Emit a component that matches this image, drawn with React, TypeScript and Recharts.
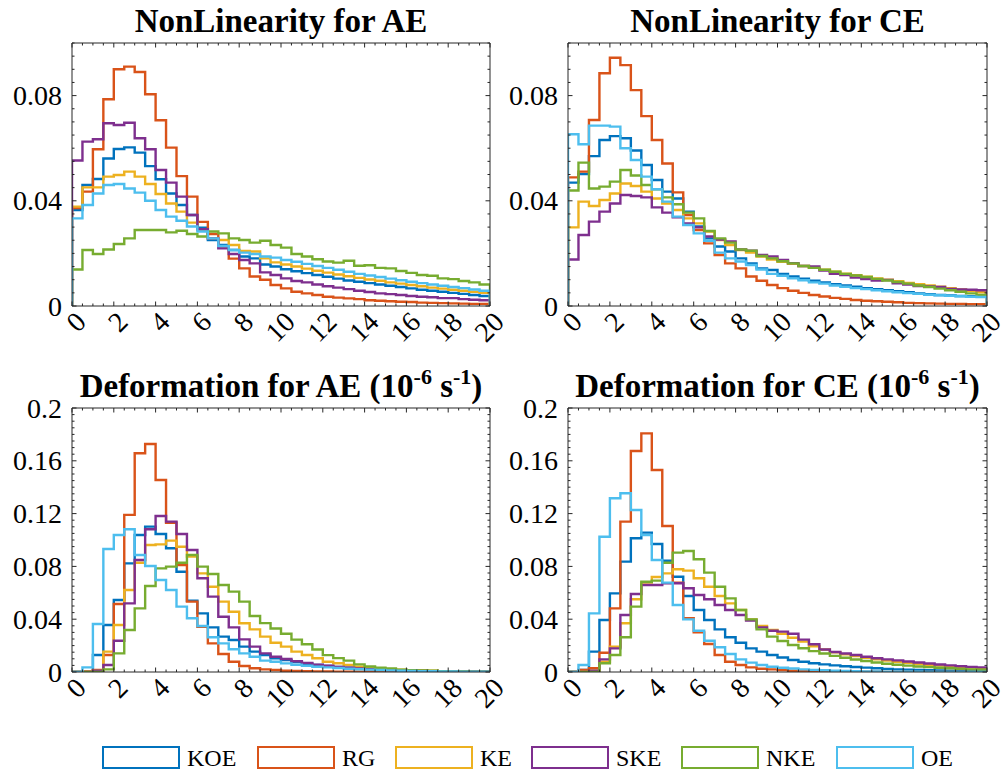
import React from 'react';
import { LineChart, Line, XAxis, YAxis } from 'recharts';

// histogram bins: 40 bins of width 0.5 from 0 to 20
const binWidth = 0.5;
const xMax = 20;
const seriesNames = ['KOE', 'RG', 'KE', 'SKE', 'NKE', 'OE'];
const seriesColors = ['#0072BD', '#D95319', '#EDB120', '#7E2F8E', '#77AC30', '#4DBEEE'];

// NonLinearity for AE
const nlAeKOE = [0.0365, 0.046, 0.0483, 0.0561, 0.0597, 0.0603, 0.0583, 0.0532, 0.0482, 0.0428, 0.0384, 0.0346, 0.0298, 0.0251, 0.0232, 0.0213, 0.0188, 0.0181, 0.0158, 0.015, 0.014, 0.0132, 0.0125, 0.0118, 0.0111, 0.0104, 0.0097, 0.0092, 0.0087, 0.0082, 0.0077, 0.0072, 0.0067, 0.0062, 0.0058, 0.0054, 0.005, 0.0046, 0.0042, 0.0038];
const nlAeRG = [0.0372, 0.0435, 0.0596, 0.0786, 0.09, 0.091, 0.089, 0.0805, 0.0706, 0.0602, 0.0494, 0.0416, 0.032, 0.0274, 0.0226, 0.018, 0.0143, 0.0112, 0.01, 0.008, 0.0067, 0.0054, 0.0048, 0.0042, 0.0035, 0.0032, 0.0029, 0.0026, 0.0022, 0.002, 0.0018, 0.0016, 0.0015, 0.0013, 0.0012, 0.0011, 0.001, 0.0009, 0.0008, 0.0008];
const nlAeKE = [0.0378, 0.0451, 0.0451, 0.0492, 0.0498, 0.0511, 0.0492, 0.0464, 0.0426, 0.039, 0.0359, 0.0317, 0.0289, 0.0257, 0.0251, 0.0232, 0.0209, 0.0207, 0.0181, 0.0166, 0.0158, 0.015, 0.0142, 0.0134, 0.0127, 0.012, 0.0113, 0.0107, 0.0101, 0.0096, 0.009, 0.0085, 0.008, 0.0075, 0.007, 0.0066, 0.0062, 0.0058, 0.0054, 0.005];
const nlAeSKE = [0.0553, 0.0625, 0.0634, 0.0695, 0.0688, 0.0697, 0.0638, 0.0596, 0.0517, 0.0469, 0.0416, 0.0346, 0.0292, 0.0257, 0.0219, 0.0198, 0.0175, 0.0162, 0.0128, 0.0118, 0.0105, 0.0095, 0.009, 0.0082, 0.0075, 0.007, 0.0064, 0.0058, 0.0053, 0.0048, 0.0045, 0.0042, 0.0038, 0.0035, 0.0033, 0.003, 0.003, 0.0026, 0.0024, 0.0022];
const nlAeNKE = [0.0139, 0.0213, 0.0198, 0.0215, 0.0236, 0.0257, 0.0289, 0.0289, 0.0289, 0.028, 0.0286, 0.0274, 0.0264, 0.0283, 0.0276, 0.0257, 0.0251, 0.0241, 0.0248, 0.0232, 0.0222, 0.0198, 0.0188, 0.0178, 0.0169, 0.0165, 0.0172, 0.0153, 0.0155, 0.0145, 0.0143, 0.0133, 0.0126, 0.0118, 0.0115, 0.0105, 0.0102, 0.0095, 0.009, 0.0082];
const nlAeOE = [0.0333, 0.0384, 0.0428, 0.046, 0.0464, 0.0447, 0.0431, 0.04, 0.0365, 0.034, 0.0324, 0.0302, 0.0283, 0.0257, 0.0228, 0.0213, 0.0203, 0.0198, 0.0188, 0.0184, 0.0175, 0.0168, 0.016, 0.0152, 0.0145, 0.0138, 0.013, 0.0122, 0.0116, 0.011, 0.0104, 0.0098, 0.0092, 0.0087, 0.0082, 0.0077, 0.0072, 0.0068, 0.0063, 0.0058];

// NonLinearity for CE
const nlCeKOE = [0.0469, 0.0502, 0.057, 0.0631, 0.0646, 0.0638, 0.0591, 0.0536, 0.0479, 0.0435, 0.0409, 0.0359, 0.0302, 0.0257, 0.0226, 0.0207, 0.0181, 0.0162, 0.0143, 0.0137, 0.0122, 0.0112, 0.0104, 0.0096, 0.009, 0.0083, 0.0078, 0.0073, 0.0068, 0.0064, 0.006, 0.0056, 0.0052, 0.0048, 0.0045, 0.0042, 0.004, 0.0038, 0.0037, 0.0035];
const nlCeRG = [0.0489, 0.0511, 0.0707, 0.0885, 0.0944, 0.0916, 0.0821, 0.0722, 0.0631, 0.0542, 0.0432, 0.0346, 0.0289, 0.0238, 0.0194, 0.0162, 0.0143, 0.0112, 0.0096, 0.008, 0.0068, 0.0058, 0.005, 0.0042, 0.0036, 0.0031, 0.0027, 0.0023, 0.002, 0.0018, 0.0016, 0.0014, 0.0012, 0.0011, 0.001, 0.0009, 0.0008, 0.0008, 0.0007, 0.0007];
const nlCeKE = [0.0299, 0.0397, 0.038, 0.0403, 0.0428, 0.0466, 0.0456, 0.0435, 0.0409, 0.039, 0.0365, 0.0333, 0.0314, 0.0283, 0.0251, 0.0232, 0.0213, 0.0203, 0.0188, 0.0177, 0.0168, 0.016, 0.0152, 0.0145, 0.0138, 0.013, 0.0123, 0.0117, 0.0111, 0.0105, 0.01, 0.0094, 0.0088, 0.0083, 0.0078, 0.0073, 0.0068, 0.0063, 0.0058, 0.0052];
const nlCeSKE = [0.0177, 0.027, 0.0321, 0.0359, 0.039, 0.0422, 0.0418, 0.0413, 0.0375, 0.0355, 0.0337, 0.0314, 0.0299, 0.0264, 0.0253, 0.0245, 0.0215, 0.021, 0.0194, 0.0188, 0.0175, 0.0163, 0.0152, 0.015, 0.0135, 0.0122, 0.0118, 0.0108, 0.0102, 0.0097, 0.0099, 0.0086, 0.0082, 0.0076, 0.0074, 0.0072, 0.0065, 0.0063, 0.0062, 0.006];
const nlCeNKE = [0.0439, 0.0545, 0.0447, 0.0454, 0.0473, 0.0517, 0.0496, 0.046, 0.0444, 0.0413, 0.0387, 0.0355, 0.0333, 0.0285, 0.0257, 0.0241, 0.0215, 0.021, 0.019, 0.0181, 0.017, 0.0162, 0.0152, 0.0145, 0.0138, 0.013, 0.0122, 0.0116, 0.011, 0.0103, 0.0097, 0.0091, 0.0085, 0.0078, 0.0072, 0.0066, 0.006, 0.0054, 0.0048, 0.0042];
const nlCeOE = [0.0653, 0.0615, 0.0686, 0.0686, 0.0682, 0.06, 0.0555, 0.0492, 0.0444, 0.0397, 0.034, 0.0308, 0.0276, 0.0248, 0.0203, 0.0181, 0.0169, 0.0156, 0.0139, 0.0122, 0.0115, 0.0105, 0.0098, 0.009, 0.0085, 0.0078, 0.0073, 0.0068, 0.0064, 0.006, 0.0056, 0.0052, 0.0049, 0.0046, 0.0043, 0.0041, 0.0039, 0.0037, 0.0035, 0.0034];

// Deformation for AE
const dfAeKOE = [0, 0, 0.0129, 0.0356, 0.0545, 0.0823, 0.1038, 0.1101, 0.1045, 0.0937, 0.076, 0.054, 0.0444, 0.0338, 0.0268, 0.0242, 0.0192, 0.0154, 0.0129, 0.0104, 0.009, 0.0075, 0.0063, 0.0053, 0.0045, 0.0038, 0.0032, 0.0026, 0.0022, 0.0018, 0.0015, 0.0012, 0.001, 0.0008, 0.0006, 0.0005, 0.0004, 0.0003, 0.0003, 0.0002];
const dfAeRG = [0, 0.0005, 0.0015, 0.0129, 0.0515, 0.119, 0.1657, 0.1727, 0.1455, 0.1131, 0.081, 0.0533, 0.0343, 0.0217, 0.0136, 0.0078, 0.0045, 0.0028, 0.002, 0.0015, 0.001, 0.0008, 0.0006, 0.0005, 0.0004, 0.0003, 0.0003, 0.0002, 0.0002, 0.0001, 0.0001, 0.0001, 0.0001, 0, 0, 0, 0, 0, 0, 0];
const dfAeKE = [0, 0, 0.001, 0.0154, 0.0356, 0.0621, 0.0828, 0.0962, 0.0967, 0.0995, 0.0949, 0.0874, 0.0747, 0.0646, 0.0533, 0.0457, 0.0369, 0.0323, 0.0268, 0.0222, 0.0192, 0.0154, 0.0129, 0.0104, 0.0078, 0.0066, 0.0053, 0.004, 0.0033, 0.0025, 0.002, 0.0017, 0.0014, 0.0011, 0.0009, 0.0007, 0.0005, 0.0004, 0.0003, 0.0002];
const dfAeSKE = [0, 0, 0.001, 0.0053, 0.0237, 0.052, 0.0848, 0.1081, 0.1182, 0.1139, 0.1045, 0.0924, 0.071, 0.0571, 0.0419, 0.0338, 0.0247, 0.0192, 0.0141, 0.0116, 0.0098, 0.0082, 0.0068, 0.0056, 0.0047, 0.0039, 0.0032, 0.0027, 0.0022, 0.0018, 0.0015, 0.0012, 0.001, 0.0008, 0.0006, 0.0005, 0.0004, 0.0003, 0.0003, 0.0002];
const dfAeNKE = [0, 0, 0, 0.002, 0.0141, 0.0318, 0.0482, 0.0652, 0.0785, 0.0798, 0.0828, 0.0886, 0.0798, 0.0742, 0.0659, 0.0609, 0.0533, 0.0424, 0.037, 0.033, 0.029, 0.0245, 0.021, 0.017, 0.0128, 0.0105, 0.0086, 0.0058, 0.0042, 0.0032, 0.0027, 0.0018, 0.0014, 0.0011, 0.0009, 0.0007, 0.0005, 0.0004, 0.0003, 0.0003];
const dfAeOE = [0, 0.0035, 0.0364, 0.0932, 0.1038, 0.1081, 0.0886, 0.0803, 0.0697, 0.0621, 0.0495, 0.0407, 0.0348, 0.0263, 0.0217, 0.0172, 0.0141, 0.0116, 0.0086, 0.0078, 0.0065, 0.0055, 0.0047, 0.004, 0.0035, 0.003, 0.0025, 0.0021, 0.0018, 0.0015, 0.0012, 0.001, 0.0008, 0.0007, 0.0006, 0.0005, 0.0004, 0.0003, 0.0003, 0.0002];

// Deformation for CE
const dfCeKOE = [0, 0.0015, 0.0154, 0.0394, 0.0596, 0.0836, 0.1013, 0.1056, 0.097, 0.0843, 0.0722, 0.0576, 0.047, 0.0394, 0.0323, 0.0263, 0.0222, 0.0179, 0.0154, 0.0129, 0.011, 0.0091, 0.0078, 0.0066, 0.0058, 0.005, 0.0044, 0.0038, 0.0033, 0.0028, 0.0024, 0.002, 0.0018, 0.0015, 0.0013, 0.0011, 0.0009, 0.0008, 0.0007, 0.0006];
const dfCeRG = [0, 0.0015, 0.0028, 0.0146, 0.0482, 0.1139, 0.1674, 0.1808, 0.153, 0.1106, 0.0677, 0.0407, 0.03, 0.0212, 0.0129, 0.0078, 0.0053, 0.0035, 0.0025, 0.002, 0.0015, 0.001, 0.0008, 0.0006, 0.0005, 0.0004, 0.0003, 0.0003, 0.0002, 0.0002, 0.0001, 0.0001, 0.0001, 0.0001, 0, 0, 0, 0, 0, 0];
const dfCeKE = [0, 0, 0.001, 0.0078, 0.0192, 0.0369, 0.0551, 0.0677, 0.072, 0.0747, 0.0778, 0.0768, 0.071, 0.0646, 0.0576, 0.052, 0.047, 0.0399, 0.0348, 0.0318, 0.029, 0.026, 0.023, 0.0195, 0.017, 0.015, 0.0135, 0.012, 0.0108, 0.0096, 0.0086, 0.0077, 0.0069, 0.0061, 0.0054, 0.0048, 0.0042, 0.0037, 0.0033, 0.0029];
const dfCeSKE = [0, 0, 0.001, 0.0096, 0.0179, 0.0432, 0.0591, 0.0659, 0.0659, 0.0672, 0.0672, 0.0634, 0.0583, 0.0551, 0.0508, 0.047, 0.0432, 0.0389, 0.0338, 0.0313, 0.0306, 0.029, 0.0245, 0.021, 0.017, 0.0152, 0.014, 0.0129, 0.0116, 0.0104, 0.0096, 0.0088, 0.008, 0.0072, 0.0064, 0.0057, 0.005, 0.0044, 0.0039, 0.0035];
const dfCeNKE = [0, 0, 0, 0.0066, 0.0129, 0.0263, 0.0495, 0.0684, 0.0692, 0.0828, 0.0904, 0.0917, 0.0854, 0.0753, 0.0646, 0.0558, 0.047, 0.0399, 0.0323, 0.0268, 0.0235, 0.0205, 0.018, 0.0158, 0.014, 0.0122, 0.0108, 0.0095, 0.0083, 0.0072, 0.0063, 0.0055, 0.0048, 0.0042, 0.0037, 0.0032, 0.0028, 0.0024, 0.002, 0.0018];
const dfCeOE = [0, 0.0053, 0.0444, 0.1025, 0.1316, 0.1354, 0.1227, 0.1038, 0.0848, 0.0677, 0.0508, 0.0399, 0.0313, 0.0237, 0.0187, 0.0136, 0.0096, 0.0071, 0.0053, 0.004, 0.0032, 0.0026, 0.002, 0.0016, 0.0013, 0.001, 0.0008, 0.0006, 0.0005, 0.0004, 0.0003, 0.0003, 0.0002, 0.0002, 0.0001, 0.0001, 0.0001, 0.0001, 0, 0];

// axis ticks
const xMajorTicks = [0, 2, 4, 6, 8, 10, 12, 14, 16, 18, 20];
const yMajorStep = 0.04;
const yMinorStep = 0.005;

const axisColor = '#262626';
const serif = '"Liberation Serif", "Times New Roman", serif';

const xTicks = Array.from({ length: xMax / binWidth + 1 }, (_, i) => i * binWidth);
const makeYTicks = (yMax: number) =>
    Array.from({ length: Math.round(yMax / yMinorStep) + 1 }, (_, i) => Number((i * yMinorStep).toFixed(3)));

const isXMajor = (v: number) => xMajorTicks.includes(v);
const isYMajor = (v: number) => Math.abs(v / yMajorStep - Math.round(v / yMajorStep)) < 1e-6;

// stairs: start at baseline, one row per bin, close at the right edge
function buildRows(cols: number[][]) {
    const row = (x: number, pick: (c: number[]) => number) => {
        const r: Record<string, number> = { x };
        seriesNames.forEach((n, k) => { r[n] = pick(cols[k]); });
        return r;
    };
    const rows = [row(0, () => 0)];
    for (let i = 0; i < cols[0].length; i++) rows.push(row(i * binWidth, c => c[i]));
    rows.push(row(xMax, c => c[c.length - 1]));
    rows.push(row(xMax, () => 0));
    return rows;
}

const M_LEFT = 72;
const M_TOP = 43;
const M_RIGHT = 20;
const M_BOTTOM = 60;

function Panel({ plotLeft, plotTop, plotW, plotH, yMax, cols }: {
    plotLeft: number; plotTop: number; plotW: number; plotH: number; yMax: number; cols: number[][];
}) {
    const W = M_LEFT + plotW + M_RIGHT;
    const H = M_TOP + plotH + M_BOTTOM;
    const yb = M_TOP + plotH;
    const xr = M_LEFT + plotW;
    const rows = buildRows(cols);
    const yTicks = makeYTicks(yMax);

    const tickBottom = (p: any) => {
        const v = p.payload.value;
        const major = isXMajor(v);
        const ax = p.x + 9;
        const ay = yb + 11;
        return (
            <g>
                <line x1={p.x} x2={p.x} y1={yb} y2={yb - (major ? 4.5 : 2.5)} stroke={axisColor} />
                {major && (
                    <text x={ax} y={ay} textAnchor="end" dominantBaseline="central"
                        transform={`rotate(-45 ${ax} ${ay})`}
                        fontFamily={serif} fontSize={28} fill="#000">{v}</text>
                )}
            </g>
        );
    };
    const tickTop = (p: any) => {
        const major = isXMajor(p.payload.value);
        return <line x1={p.x} x2={p.x} y1={M_TOP} y2={M_TOP + (major ? 4.5 : 2.5)} stroke={axisColor} />;
    };
    const tickLeft = (p: any) => {
        const v = p.payload.value;
        const major = isYMajor(v);
        return (
            <g>
                <line x1={M_LEFT} x2={M_LEFT + (major ? 4.5 : 2.5)} y1={p.y} y2={p.y} stroke={axisColor} />
                {major && (
                    <text x={M_LEFT - 10} y={p.y} textAnchor="end" dominantBaseline="central"
                        fontFamily={serif} fontSize={28} fill="#000">{String(Number(v.toFixed(3)))}</text>
                )}
            </g>
        );
    };
    const tickRight = (p: any) => {
        const major = isYMajor(p.payload.value);
        return <line x1={xr} x2={xr - (major ? 4.5 : 2.5)} y1={p.y} y2={p.y} stroke={axisColor} />;
    };

    return (
        <div style={{ position: 'absolute', left: plotLeft - M_LEFT, top: plotTop - M_TOP, width: W, height: H }}>
            <LineChart width={W} height={H} data={rows} margin={{ top: 0, right: 0, bottom: 0, left: 0 }}>
                <XAxis xAxisId="b" dataKey="x" type="number" domain={[0, xMax]} ticks={xTicks} interval={0}
                    height={M_BOTTOM} tickLine={false} axisLine={{ stroke: axisColor }} tick={tickBottom} allowDataOverflow />
                <XAxis xAxisId="t" orientation="top" dataKey="x" type="number" domain={[0, xMax]} ticks={xTicks} interval={0}
                    height={M_TOP} tickLine={false} axisLine={{ stroke: axisColor }} tick={tickTop} allowDataOverflow />
                <YAxis yAxisId="l" type="number" domain={[0, yMax]} ticks={yTicks} interval={0}
                    width={M_LEFT} tickLine={false} axisLine={{ stroke: axisColor }} tick={tickLeft} allowDataOverflow />
                <YAxis yAxisId="r" orientation="right" type="number" domain={[0, yMax]} ticks={yTicks} interval={0}
                    width={M_RIGHT} tickLine={false} axisLine={{ stroke: axisColor }} tick={tickRight} allowDataOverflow />
                {seriesNames.map((n, k) => (
                    <Line key={n} xAxisId="b" yAxisId="l" dataKey={n} type="stepAfter"
                        stroke={seriesColors[k]} strokeWidth={2.4} strokeLinejoin="miter"
                        dot={false} activeDot={false} isAnimationActive={false} />
                ))}
            </LineChart>
        </div>
    );
}

function Title({ cx, y, main, unit }: { cx: number; y: number; main: string; unit?: boolean }) {
    return (
        <text x={cx} y={y} textAnchor="middle" fontFamily={serif} fontWeight="bold" fontSize={33} fill="#000">
            {main}
            {unit && (
                <>
                    {' (10'}
                    <tspan dy={-13} fontSize={22}>-6</tspan>
                    <tspan dy={13}>{' s'}</tspan>
                    <tspan dy={-13} fontSize={22}>-1</tspan>
                    <tspan dy={13}>)</tspan>
                </>
            )}
        </text>
    );
}

const legendBoxX = [103, 258, 396, 532, 682, 837];

export default function App() {
    return (
        <div style={{ position: 'absolute', left: 0, top: 0, width: 1008, height: 774, background: '#fff' }}>
            <Panel plotLeft={72} plotTop={43} plotW={418} plotH={263} yMax={0.1}
                cols={[nlAeKOE, nlAeRG, nlAeKE, nlAeSKE, nlAeNKE, nlAeOE]} />
            <Panel plotLeft={568} plotTop={43} plotW={419} plotH={263} yMax={0.1}
                cols={[nlCeKOE, nlCeRG, nlCeKE, nlCeSKE, nlCeNKE, nlCeOE]} />
            <Panel plotLeft={72} plotTop={408} plotW={418} plotH={264} yMax={0.2}
                cols={[dfAeKOE, dfAeRG, dfAeKE, dfAeSKE, dfAeNKE, dfAeOE]} />
            <Panel plotLeft={568} plotTop={408} plotW={419} plotH={264} yMax={0.2}
                cols={[dfCeKOE, dfCeRG, dfCeKE, dfCeSKE, dfCeNKE, dfCeOE]} />
            <svg width={1008} height={774} style={{ position: 'absolute', left: 0, top: 0, pointerEvents: 'none' }}>
                <Title cx={281} y={32} main="NonLinearity for AE" />
                <Title cx={777.5} y={32} main="NonLinearity for CE" />
                <Title cx={281} y={397} main="Deformation for AE" unit />
                <Title cx={777.5} y={397} main="Deformation for CE" unit />
                {seriesNames.map((n, k) => (
                    <g key={n}>
                        <rect x={legendBoxX[k]} y={747} width={76} height={21} fill="none"
                            stroke={seriesColors[k]} strokeWidth={2} />
                        <text x={legendBoxX[k] + 84} y={766} fontFamily={serif} fontSize={24} fill="#000">{n}</text>
                    </g>
                ))}
            </svg>
        </div>
    );
}
